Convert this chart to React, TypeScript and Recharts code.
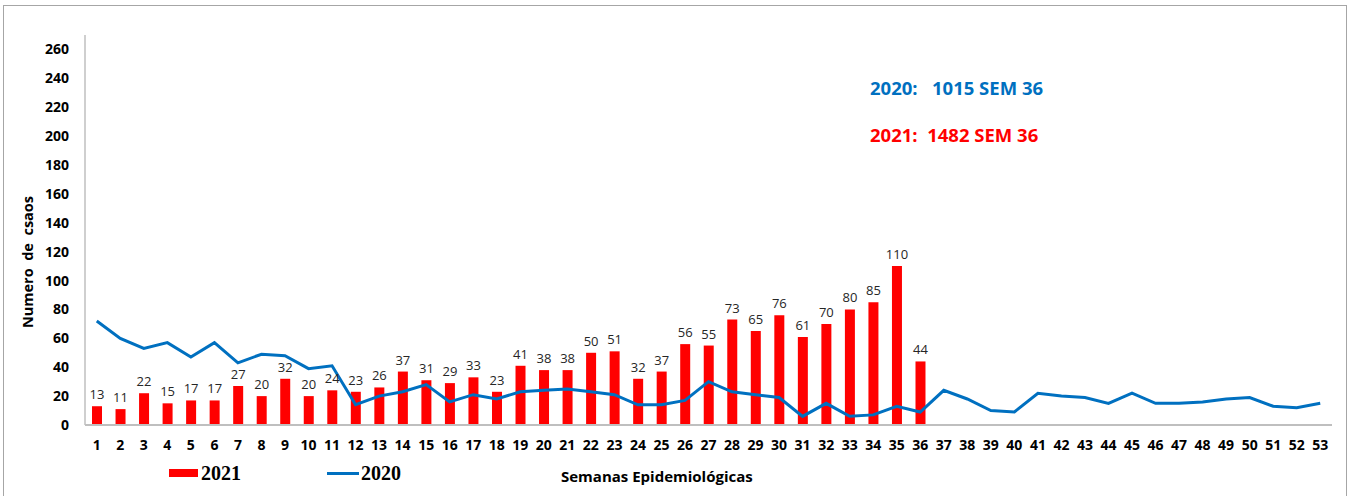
import React from 'react';
import { ComposedChart, Bar, Line, XAxis, YAxis, LabelList, Legend } from 'recharts';

const weeks: number[] = Array.from({ length: 53 }, (_, i) => i + 1);
const cases2021: (number | null)[] = [13, 11, 22, 15, 17, 17, 27, 20, 32, 20, 24, 23, 26, 37, 31, 29, 33, 23, 41, 38, 38, 50, 51, 32, 37, 56, 55, 73, 65, 76, 61, 70, 80, 85, 110, 44];
const cases2020: number[] = [72, 60, 53, 57, 47, 57, 43, 49, 48, 39, 41, 14, 20, 23, 28, 16, 21, 18, 23, 24, 25, 23, 21, 14, 14, 17, 30, 23, 21, 19, 6, 15, 6, 7, 13, 9, 24, 18, 10, 9, 22, 20, 19, 15, 22, 15, 15, 16, 18, 19, 13, 12, 15];
const yTicks: number[] = [0, 20, 40, 60, 80, 100, 120, 140, 160, 180, 200, 220, 240, 260];

const data = weeks.map((w, i) => ({
  week: String(w),
  y2021: i < cases2021.length ? cases2021[i] : null,
  y2020: cases2020[i],
}));

const FONT = '"Open Sans", "DejaVu Sans", sans-serif';

const LegendContent = () => (
  <div style={{ position: 'relative', height: 24, fontFamily: '"Liberation Serif", "DejaVu Serif", serif', fontWeight: 'bold', fontSize: 20, color: '#000' }}>
    <div style={{ position: 'absolute', left: 169, top: 8, width: 29, height: 8, background: '#FF0000' }} />
    <div style={{ position: 'absolute', left: 201, top: 0, lineHeight: '24px' }}>2021</div>
    <div style={{ position: 'absolute', left: 327, top: 11, width: 32, height: 3, background: '#0070C0' }} />
    <div style={{ position: 'absolute', left: 361, top: 0, lineHeight: '24px' }}>2020</div>
  </div>
);

const YLabel = () => (
  <text x={33} y={262} transform="rotate(-90, 33, 262)" textAnchor="middle" style={{ fontFamily: FONT, fontWeight: 'bold', fontSize: 14.5, fill: '#000', whiteSpace: 'pre' }}>
    Numero  de  csaos
  </text>
);

export default function App() {
  return (
    <div style={{ position: 'absolute', left: 0, top: 0, width: 1358, height: 496, background: '#fff', overflow: 'hidden' }}>
      <div style={{ position: 'absolute', left: 3, top: 5, width: 1342, height: 520, borderTop: '1px solid #a6a6a6', borderLeft: '1px solid #a6a6a6', borderRight: '1px solid #a6a6a6' }} />
      <ComposedChart
        width={1358}
        height={496}
        data={data}
        margin={{ top: 35, right: 26, bottom: 17, left: 25 }}
        style={{ position: 'absolute', left: 0, top: 0 }}
      >
        <XAxis
          dataKey="week"
          height={30}
          interval={0}
          tickLine={false}
          tickSize={8}
          tickMargin={7}
          axisLine={{ stroke: '#bfbfbf', strokeWidth: 2 }}
          tick={{ fontFamily: FONT, fontWeight: 'bold', fontSize: 14, fill: '#000' }}
        />
        <YAxis
          width={60}
          domain={[0, 270]}
          ticks={yTicks}
          interval={0}
          tickLine={false}
          tickSize={8}
          tickMargin={8}
          axisLine={{ stroke: '#bfbfbf', strokeWidth: 1.5 }}
          tick={{ fontFamily: FONT, fontWeight: 'bold', fontSize: 14, fill: '#000' }}
          label={<YLabel />}
        />
        <Legend verticalAlign="bottom" align="left" wrapperStyle={{ position: 'absolute', left: 0, top: 461, width: 600 }} content={<LegendContent />} />
        <Bar dataKey="y2021" name="2021" fill="#FF0000" barSize={10} isAnimationActive={false}>
          <LabelList dataKey="y2021" position="top" offset={7} style={{ fontFamily: FONT, fontSize: 13, fill: '#262626' }} />
        </Bar>
        <Line dataKey="y2020" name="2020" type="linear" stroke="#0070C0" strokeWidth={3} dot={false} activeDot={false} isAnimationActive={false} />
      </ComposedChart>
      <div style={{ position: 'absolute', left: 561, top: 466, fontFamily: FONT, fontWeight: 'bold', fontSize: 15, color: '#000' }}>Semanas Epidemiológicas</div>
      <div style={{ position: 'absolute', left: 870, top: 75, fontFamily: FONT, fontWeight: 'bold', fontSize: 18.5, color: '#0070C0', whiteSpace: 'pre' }}>2020:   1015 SEM 36</div>
      <div style={{ position: 'absolute', left: 870, top: 122, fontFamily: FONT, fontWeight: 'bold', fontSize: 18.5, color: '#FF0000', whiteSpace: 'pre' }}>2021:  1482 SEM 36</div>
    </div>
  );
}
